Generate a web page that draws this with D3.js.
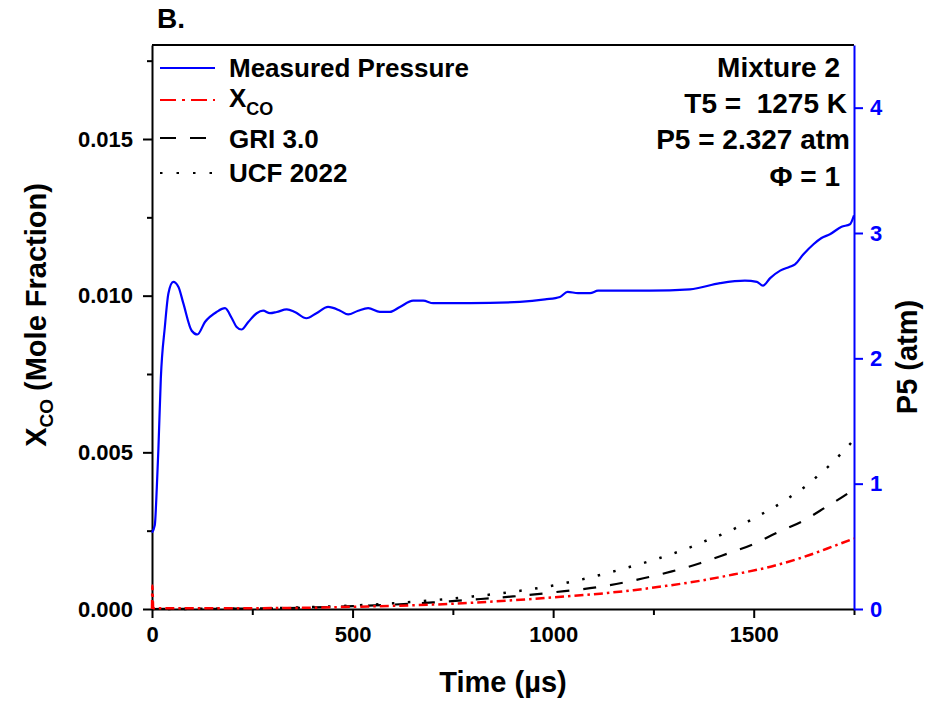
<!DOCTYPE html>
<html>
<head>
<meta charset="utf-8">
<script src="https://cdn.jsdelivr.net/npm/d3@7"></script>
<style>
  body { margin: 0; background: #fff; }
  svg text { font-family: "Liberation Sans", Arial, sans-serif; font-weight: bold; white-space: pre; }
</style>
</head>
<body>
<div id="chart"></div>
<script>
// measured pressure (atm, right axis)
const pressureTime = [0, 7, 12, 16, 22, 32, 41, 53, 66, 78, 99, 113, 132, 161, 182, 199, 211, 223, 240, 261, 277, 294, 311, 336, 356, 385, 410, 439, 469, 489, 514, 539, 568, 593, 618, 651, 676, 701, 793, 917, 980, 1017, 1036, 1062, 1092, 1112, 1241, 1341, 1416, 1478, 1508, 1523, 1541, 1566, 1590, 1603, 1624, 1649, 1669, 1690, 1719, 1740, 1750]
const pressureAtm = [0.61, 0.67, 0.97, 1.28, 1.84, 2.25, 2.52, 2.61, 2.57, 2.44, 2.22, 2.19, 2.29, 2.37, 2.40, 2.32, 2.25, 2.23, 2.29, 2.36, 2.38, 2.36, 2.37, 2.39, 2.37, 2.32, 2.36, 2.41, 2.38, 2.35, 2.38, 2.40, 2.37, 2.37, 2.41, 2.46, 2.46, 2.44, 2.44, 2.45, 2.47, 2.49, 2.53, 2.52, 2.52, 2.54, 2.54, 2.55, 2.60, 2.62, 2.61, 2.58, 2.64, 2.70, 2.73, 2.75, 2.83, 2.91, 2.96, 2.99, 3.05, 3.07, 3.14]

// measured X_CO (left axis)
const xcoTime = [0, 1, 3, 100, 200, 300, 400, 500, 600, 700, 800, 900, 1000, 1117, 1200, 1283, 1366, 1449, 1532, 1615, 1698, 1750]
const xcoVal = [0, 0.00075, 0.00002, 0.00002, 0.00002, 0.00003, 0.00004, 0.00007, 0.0001, 0.00014, 0.0002, 0.00028, 0.00037, 0.00049, 0.0006, 0.00074, 0.0009, 0.0011, 0.00132, 0.00162, 0.002, 0.00225]

// GRI 3.0 model
const griTime = [0, 200, 400, 500, 600, 700, 800, 900, 1000, 1142, 1225, 1296, 1366, 1433, 1499, 1557, 1624, 1682, 1736, 1750]
const griVal = [0, 0.00001, 0.00005, 0.00009, 0.00014, 0.00021, 0.0003, 0.0004, 0.00053, 0.00076, 0.00098, 0.0012, 0.00146, 0.00176, 0.00207, 0.00243, 0.00282, 0.00327, 0.0037, 0.00383]

// UCF 2022 model
const ucfTime = [0, 200, 400, 500, 600, 700, 800, 900, 1000, 1142, 1187, 1226, 1266, 1308, 1348, 1387, 1424, 1464, 1501, 1540, 1574, 1607, 1632, 1663, 1694, 1723, 1750]
const ucfVal = [0, 0.00001, 0.00006, 0.00011, 0.00018, 0.00028, 0.0004, 0.00055, 0.00075, 0.00117, 0.00133, 0.00147, 0.00163, 0.00181, 0.002, 0.00221, 0.0024, 0.00264, 0.0029, 0.00317, 0.00343, 0.00372, 0.00394, 0.00429, 0.00464, 0.00503, 0.0054]

const xTicks = [0, 500, 1000, 1500]
const xMinor = [250, 750, 1250, 1750]
const yLeftTicks = [0, 0.005, 0.010, 0.015]
const yLeftMinor = [0.0025, 0.0075, 0.0125, 0.0175]
const yRightTicks = [0, 1, 2, 3, 4]

const legendLabels = ['Measured Pressure', 'X', 'GRI 3.0', 'UCF 2022']
const infoLines = ['Mixture 2', 'T5 =  1275 K', 'P5 = 2.327 atm', 'Φ = 1']

const width = 927, height = 706
const padding = { left: 152, right: 73, top: 45, bottom: 97 }
const BLUE = '#0000ff', RED = '#ff0000'

const x = d3.scaleLinear().domain([0, 1750]).range([padding.left, width - padding.right])
const yL = d3.scaleLinear().domain([0, 0.018]).range([height - padding.bottom, padding.top])
const yR = d3.scaleLinear().domain([0, 4.5]).range([height - padding.bottom, padding.top])

const svg = d3.select('#chart').append('svg')
    .attr('width', width)
    .attr('height', height)

// frame top line
svg.append('line')
    .attr('x1', x(0)).attr('x2', x(1750))
    .attr('y1', yL(0.018)).attr('y2', yL(0.018))
    .attr('stroke', '#000').attr('stroke-width', 2)

function styleAxis(g, color, size) {
    g.selectAll('path.domain').attr('stroke', color).attr('stroke-width', 2)
    g.selectAll('.tick line').attr('stroke', color).attr('stroke-width', 2)
    g.selectAll('.tick text')
        .attr('fill', color)
        .style('font-size', size + 'px')
}

// bottom axis
const xAxisG = svg.append('g')
    .attr('transform', `translate(0, ${yL(0)})`)
    .call(d3.axisBottom(x).tickValues(xTicks).tickSize(9).tickSizeOuter(0).tickPadding(8).tickFormat(d3.format('d')))
styleAxis(xAxisG, '#000', 22)
svg.append('g')
    .attr('transform', `translate(0, ${yL(0)})`)
    .call(d3.axisBottom(x).tickValues(xMinor).tickSize(6).tickFormat(''))
    .call(g => g.select('.domain').remove())
    .call(g => g.selectAll('.tick line').attr('stroke', '#000').attr('stroke-width', 2))

// left axis
const yLAxisG = svg.append('g')
    .attr('transform', `translate(${x(0)}, 0)`)
    .call(d3.axisLeft(yL).tickValues(yLeftTicks).tickSize(9).tickSizeOuter(0).tickPadding(10).tickFormat(d3.format('.3f')))
styleAxis(yLAxisG, '#000', 22)
svg.append('g')
    .attr('transform', `translate(${x(0)}, 0)`)
    .call(d3.axisLeft(yL).tickValues(yLeftMinor).tickSize(5).tickFormat(''))
    .call(g => g.select('.domain').remove())
    .call(g => g.selectAll('.tick line').attr('stroke', '#000').attr('stroke-width', 2))

// right axis (pressure)
const yRAxisG = svg.append('g')
    .attr('transform', `translate(${x(1750)}, 0)`)
    .call(d3.axisRight(yR).tickValues(yRightTicks).tickSize(9).tickSizeOuter(0).tickPadding(7).tickFormat(d3.format('d')))
styleAxis(yRAxisG, BLUE, 22)

// series
const lineL = (ts, vs) => d3.line()
    .x(i => x(ts[i]))
    .y(i => yL(vs[i]))
    .curve(d3.curveMonotoneX)(d3.range(ts.length))

const lineR = d3.line()
    .x(i => x(pressureTime[i]))
    .y(i => yR(pressureAtm[i]))
    .curve(d3.curveMonotoneX)

svg.append('path')
    .attr('d', lineL(ucfTime, ucfVal))
    .attr('fill', 'none').attr('stroke', '#000').attr('stroke-width', 2.5)
    .attr('stroke-dasharray', '2.5,13.5')

svg.append('path')
    .attr('d', lineL(griTime, griVal))
    .attr('fill', 'none').attr('stroke', '#000').attr('stroke-width', 2.2)
    .attr('stroke-dasharray', '13,14')

svg.append('path')
    .attr('d', lineL(xcoTime, xcoVal))
    .attr('fill', 'none').attr('stroke', RED).attr('stroke-width', 2.5)
    .attr('stroke-dasharray', '9,4,2.5,4')

svg.append('path')
    .attr('d', lineR(d3.range(pressureTime.length)))
    .attr('fill', 'none').attr('stroke', BLUE).attr('stroke-width', 2.2)

// panel letter
svg.append('text').attr('x', 157).attr('y', 28).style('font-size', '28px').text('B.')

// legend
const legendRows = [
    { y: 68, base: 77, stroke: BLUE, dash: null },
    { y: 100, base: 107, stroke: RED, dash: '16,6,3,6' },
    { y: 138, base: 148, stroke: '#000', dash: '16,14' },
    { y: 173, base: 182, stroke: '#000', dash: '2.5,14' }
]
legendRows.forEach((r, i) => {
    svg.append('line')
        .attr('x1', 160).attr('x2', 215)
        .attr('y1', r.y).attr('y2', r.y)
        .attr('stroke', r.stroke).attr('stroke-width', 2.2)
        .attr('stroke-dasharray', r.dash)
    const t = svg.append('text').attr('x', 229).attr('y', r.base).style('font-size', '26px')
    t.append('tspan').text(legendLabels[i])
    if (i === 1) t.append('tspan').attr('dy', 8).style('font-size', '18px').text('CO')
})

// info block
const infoBase = [77, 113, 149, 186]
const infoRight = [840, 847, 850, 840]
infoLines.forEach((s, i) => {
    svg.append('text')
        .attr('x', infoRight[i]).attr('y', infoBase[i])
        .attr('text-anchor', 'end')
        .style('font-size', '28px')
        .text(s)
})

// axis titles
svg.append('text')
    .attr('x', (x(0) + x(1750)) / 2).attr('y', 692)
    .attr('text-anchor', 'middle')
    .style('font-size', '29px')
    .text('Time (µs)')

const lt = svg.append('text')
    .attr('transform', 'translate(46, 315) rotate(-90)')
    .attr('text-anchor', 'middle')
    .style('font-size', '29px')
lt.append('tspan').text('X')
lt.append('tspan').attr('dy', 7).style('font-size', '19px').text('CO')
lt.append('tspan').attr('dy', -7).text(' (Mole Fraction)')

svg.append('text')
    .attr('transform', 'translate(917, 357) rotate(-90)')
    .attr('text-anchor', 'middle')
    .style('font-size', '29px')
    .text('P5 (atm)')
</script>
</body>
</html>
